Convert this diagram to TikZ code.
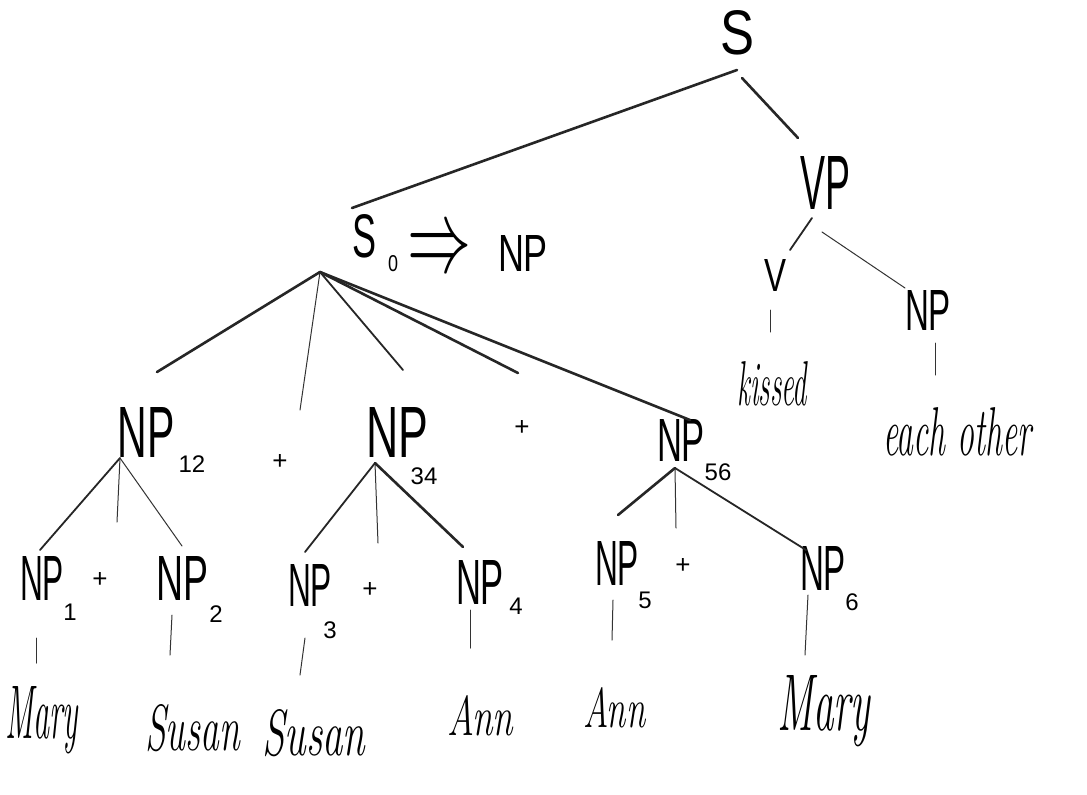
\documentclass[tikz,border=0pt]{standalone}
\usepackage{graphicx}
\usepackage{fontspec}
\newfontfamily\labfont{Liberation Sans}
\newcommand\handw[3]{\resizebox{#1pt}{#2pt}{#3}}
\tikzset{
  lab/.style={inner sep=0pt,font=\fontsize{40}{40}\labfont},
  word/.style={inner sep=0pt,anchor=base west,font=\fontsize{40}{40}\selectfont\itshape},
  sub/.style={inner sep=0pt,font=\fontsize{24}{24}\labfont},
  plus/.style={inner sep=0pt,font=\fontsize{26}{26}\labfont},
  thickedge/.style={line width=2.6pt,line cap=round,draw=black!85},
  mededge/.style={line width=1.8pt,line cap=round,draw=black!85},
  thinedge/.style={line width=1.0pt,line cap=round,draw=black!80},
}
\begin{document}
\begin{tikzpicture}[x=1pt,y=-1pt]
\useasboundingbox[fill=white] (0,0) rectangle (1087,795);

% ---- labels ----
\node[lab] (S) at (737,33) {\handw{34}{44}{S}};
\node[lab] (S0) at (364,236) {\handw{24}{43}{S}};
\node[sub] (S0sub) at (393,264) {\handw{10}{16}{0}};
\node[lab] (arr) at (440,252) {\resizebox{64pt}{38pt}{$\Rightarrow$}};
\node[lab] (NPa) at (523,253) {\handw{50}{36}{NP}};
\node[lab] (VP) at (825,183) {\handw{50}{53}{VP}};
\node[lab] (V) at (775,275) {\handw{22}{32}{V}};
\node[lab] (NPr) at (928,310) {\handw{46}{40}{NP}};
\node[word] (kissed) at (737,405) {\handw{70}{44}{kissed}};
\node[word] (eo) at (883,455) {\handw{148}{48}{each other}};

\node[lab] (NP12) at (146,432) {\handw{57}{50}{NP}};
\node[sub] (s12) at (192,464) {12};
\node[plus] (p1) at (280,462) {+};
\node[lab] (NP34) at (397,432) {\handw{62}{50}{NP}};
\node[sub] (s34) at (424,476) {34};
\node[plus] (p2) at (522,428) {+};
\node[lab] (NP56) at (681,440) {\handw{48}{42}{NP}};
\node[sub] (s56) at (718,472) {56};

\node[lab] (NP1) at (42,578) {\handw{44}{44}{NP}};
\node[sub] (s1) at (70,612) {1};
\node[plus] (p3) at (100,580) {+};
\node[lab] (NP2) at (182,578) {\handw{52}{44}{NP}};
\node[sub] (s2) at (216,614) {2};
\node[lab] (NP3) at (310,585) {\handw{44}{42}{NP}};
\node[sub] (s3) at (330,630) {3};
\node[plus] (p4) at (370,590) {+};
\node[lab] (NP4) at (480,582) {\handw{48}{44}{NP}};
\node[sub] (s4) at (516,606) {4};
\node[lab] (NP5) at (617,563) {\handw{44}{44}{NP}};
\node[sub] (s5) at (645,600) {5};
\node[plus] (p5) at (683,566) {+};
\node[lab] (NP6) at (823,568) {\handw{46}{44}{NP}};
\node[sub] (s6) at (852,602) {6};

\node[word] (w1) at (5,738) {\handw{73}{52}{Mary}};
\node[word] (w2) at (145,750) {\handw{95}{46}{Susan}};
\node[word] (w3) at (262,755) {\handw{103}{46}{Susan}};
\node[word] (w4) at (447,735) {\handw{66}{40}{Ann}};
\node[word] (w5) at (583,727) {\handw{62}{40}{Ann}};
\node[word] (w6) at (777,730) {\handw{93}{55}{Mary}};

% ---- branch points and line ends ----
\coordinate (Sb) at (737,70);
\coordinate (Sb2) at (742,78);
\coordinate (S0top) at (352,208);
\coordinate (VPtop) at (798,138);
\coordinate (VPb1) at (812,218);
\coordinate (VPb2) at (822,232);
\coordinate (Vtop) at (790,250);
\coordinate (NPrtop) at (905,288);
\coordinate (Vt1) at (770,310);
\coordinate (Vt2) at (770,332);
\coordinate (NPrt1) at (935,343);
\coordinate (NPrt2) at (935,375);

\coordinate (b0) at (320,272);
\coordinate (e1) at (157,372);
\coordinate (e2) at (300,410);
\coordinate (e3) at (403,370);
\coordinate (e4) at (518,373);
\coordinate (e5) at (690,420);

\coordinate (b12) at (120,458);
\coordinate (f1) at (40,550);
\coordinate (f2) at (117,522);
\coordinate (f3) at (182,546);
\coordinate (b34) at (375,463);
\coordinate (g1) at (305,552);
\coordinate (g2) at (378,543);
\coordinate (g3) at (463,547);
\coordinate (b56) at (675,468);
\coordinate (h1) at (618,515);
\coordinate (h2) at (676,528);
\coordinate (h3) at (806,550);

\coordinate (t1a) at (36,638);  \coordinate (t1b) at (36,663);
\coordinate (t2a) at (172,615); \coordinate (t2b) at (170,655);
\coordinate (t3a) at (305,638); \coordinate (t3b) at (300,675);
\coordinate (t4a) at (470,610); \coordinate (t4b) at (470,648);
\coordinate (t5a) at (613,600); \coordinate (t5b) at (612,640);
\coordinate (t6a) at (808,595); \coordinate (t6b) at (805,655);

% ---- connectors ----
\draw[thickedge] (Sb) -- (S0top);
\draw[thickedge] (Sb2) -- (VPtop);
\draw[mededge] (VPb1) -- (Vtop);
\draw[thinedge] (VPb2) -- (NPrtop);
\draw[thinedge] (Vt1) -- (Vt2);
\draw[thinedge] (NPrt1) -- (NPrt2);

\draw[thickedge] (b0) -- (e1);
\draw[thinedge] (b0) -- (e2);
\draw[mededge] (b0) -- (e3);
\draw[thickedge] (b0) -- (e4);
\draw[thickedge] (b0) -- (e5);

\draw[mededge] (b12) -- (f1);
\draw[thinedge] (b12) -- (f2);
\draw[thinedge] (b12) -- (f3);
\draw[mededge] (b34) -- (g1);
\draw[thinedge] (b34) -- (g2);
\draw[thickedge] (b34) -- (g3);
\draw[thickedge] (b56) -- (h1);
\draw[thinedge] (b56) -- (h2);
\draw[mededge] (b56) -- (h3);

\draw[thinedge] (t1a) -- (t1b);
\draw[thinedge] (t2a) -- (t2b);
\draw[thinedge] (t3a) -- (t3b);
\draw[thinedge] (t4a) -- (t4b);
\draw[thinedge] (t5a) -- (t5b);
\draw[thinedge] (t6a) -- (t6b);
\end{tikzpicture}
\end{document}
